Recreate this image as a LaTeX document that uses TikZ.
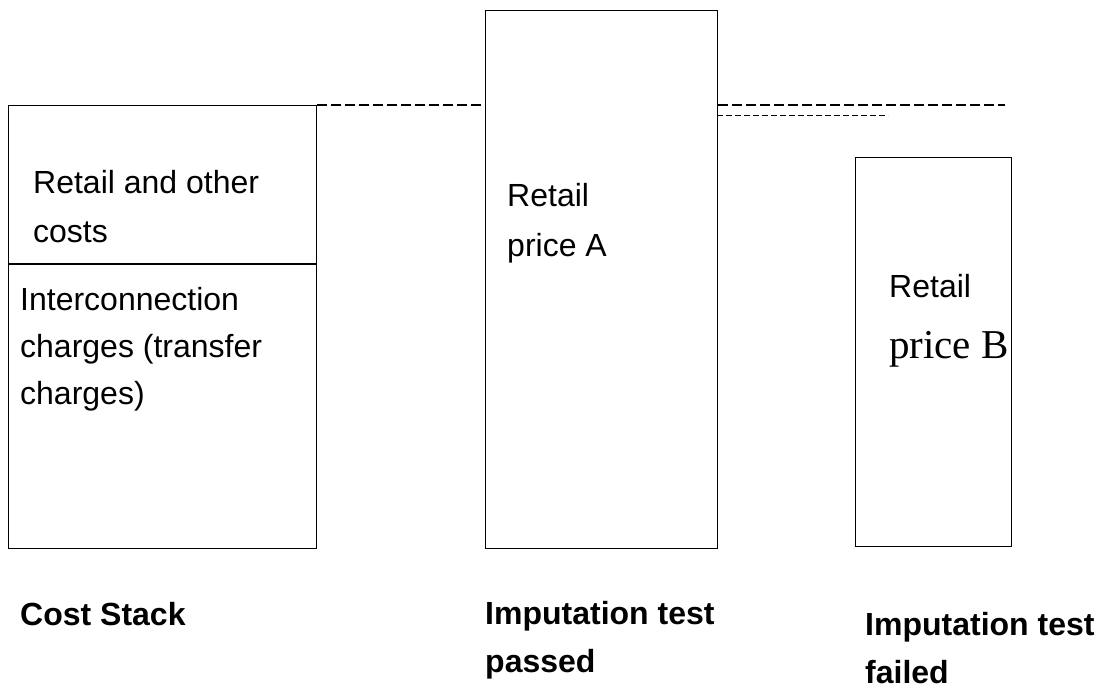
\documentclass[tikz,border=0pt]{standalone}
\usepackage{fontspec}
\setmainfont{Liberation Sans}
\newfontfamily\serifB{Liberation Serif}
\begin{document}
\begin{tikzpicture}[x=1pt,y=-1pt,
  bar/.style={draw=black, line width=1.1pt, inner sep=0pt, anchor=north west},
  txt/.style={inner sep=0pt, anchor=base west, font=\fontsize{32}{36}\selectfont},
  caption/.style={inner sep=0pt, anchor=base west, font=\fontsize{32}{36}\selectfont\bfseries},
  level/.style={line width=1.5pt, dash pattern=on 10pt off 4pt},
  sublevel/.style={line width=0.9pt, dash pattern=on 6pt off 3pt}]
\useasboundingbox (0,0) rectangle (1099,688);

% the three bars
\node[bar, minimum width=308pt, minimum height=443pt] (cost) at (8,105) {};
\node[bar, minimum width=232pt, minimum height=538pt] (passA) at (485,10) {};
\node[bar, minimum width=156pt, minimum height=389pt] (failB) at (855,157) {};

% split of the cost stack
\coordinate (splitL) at (8,264);
\draw[line width=1.1pt] (splitL) -- (splitL -| cost.east);

% dashed price levels
\coordinate (lvlEnd) at (1005,105);
\coordinate (subStart) at (717,115);
\coordinate (subEnd) at (888,115);
\draw[level] (cost.north east) -- (cost.north east -| passA.west);
\draw[level] (cost.north east -| passA.east) -- (lvlEnd);
\draw[sublevel] (subStart) -- (subEnd);

% texts inside the bars
\node[txt] (t1) at (33,193) {Retail and other};
\node[txt] (t2) at (33,242) {costs};
\node[txt] (t3) at (20,310) {Interconnection};
\node[txt] (t4) at (20,357) {charges (transfer};
\node[txt] (t5) at (20,404) {charges)};

\node[txt] (a1) at (507,206) {Retail};
\node[txt] (a2) at (507,256) {price A};

\node[txt] (b1) at (889,297) {Retail};
\node[inner sep=0pt, anchor=base west, font=\fontsize{41}{44}\selectfont\serifB] (b2) at (889,358) {price B};

% captions under the bars
\node[caption] (c1) at (20,625) {Cost Stack};
\node[caption] (c2) at (485,624) {Imputation test};
\node[caption] (c3) at (485,672) {passed};
\node[caption] (c4) at (865,635) {Imputation test};
\node[caption] (c5) at (865,683) {failed};
\end{tikzpicture}
\end{document}
